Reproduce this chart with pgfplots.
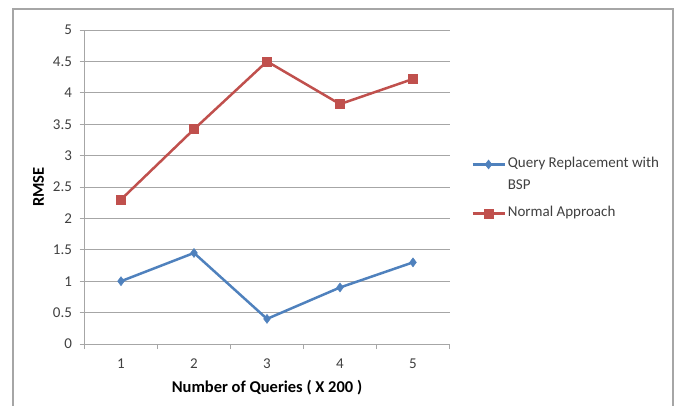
\documentclass[border=0pt]{standalone}
\usepackage{pgfplots}
\pgfplotsset{compat=1.18}
\usepackage{fontspec}
\setmainfont{Carlito}
\definecolor{xlblue}{HTML}{4F81BD}
\definecolor{xlred}{HTML}{C0504D}
\definecolor{xlgrid}{HTML}{A6A6A6}
\definecolor{xltext}{HTML}{404040}
\begin{document}
\begin{tikzpicture}
\path[use as bounding box] (0pt,0pt) rectangle (676pt,405pt);
\draw[gray!70, line width=1.2pt] (13pt,-2pt) -- (13pt,396pt) -- (673pt,396pt) -- (673pt,-2pt);
\begin{axis}[
    at={(84.5pt,61pt)}, anchor=south west,
    scale only axis,
    width=365pt, height=314pt,
    xmin=0.5, xmax=5.5,
    ymin=0, ymax=5,
    xtick={1,2,3,4,5},
    minor xtick={0.5,1.5,2.5,3.5,4.5,5.5},
    ytick={0,0.5,1,1.5,2,2.5,3,3.5,4,4.5,5},
    axis x line*=bottom,
    axis y line*=left,
    axis line style={xlgrid, line width=0.8pt},
    ymajorgrids=true,
    grid style={xlgrid, line width=0.8pt},
    major x tick style={draw=none},
    minor x tick style={xlgrid, line width=0.8pt},
    minor tick length=5pt,
    ytick style={xlgrid, line width=0.8pt},
    tick align=outside,
    major tick length=5pt,
    xticklabel style={yshift=-6pt},
    yticklabel style={xshift=-4pt},
    ticklabel style={font=\fontsize{15}{18}\selectfont, text=xltext},
    /pgf/number format/assume math mode=true,
    yticklabel={\pgfmathprintnumber[fixed,precision=1]{\tick}},
    xlabel={\textbf{Number of Queries ( X 200 )}},
    ylabel={\textbf{RMSE}},
    label style={font=\fontsize{16.5}{19}\selectfont, text=black},
    xlabel style={yshift=-5pt},
    ylabel style={yshift=2pt},
    legend style={at={(1.051,0.609)}, anchor=north west, draw=none, fill=none,
        font=\fontsize{15}{18}\selectfont, text=xltext,
        nodes={inner xsep=2pt, inner ysep=2pt, text height=11pt, text depth=4pt},
        row sep=3pt},
    legend cell align=left,
    legend image code/.code={
        \draw[mark repeat=2,mark phase=2] plot coordinates {(0pt,0pt) (16pt,0pt) (32pt,0pt)};
    },
]
\addplot[color=xlblue, line width=2.5pt, mark=diamond*, mark size=4.5pt,
    mark options={fill=xlblue, line width=0.5pt}]
    coordinates {(1,1.0)(2,1.45)(3,0.4)(4,0.9)(5,1.3)};
\addlegendentry{Query Replacement with}
\addlegendimage{empty legend}
\addlegendentry[text depth=9pt]{BSP}
\addplot[color=xlred, line width=2.5pt, mark=square*, mark size=4.5pt,
    mark options={fill=xlred, line width=0.5pt}]
    coordinates {(1,2.3)(2,3.42)(3,4.5)(4,3.82)(5,4.22)};
\addlegendentry{Normal Approach}
\end{axis}
\end{tikzpicture}
\end{document}
